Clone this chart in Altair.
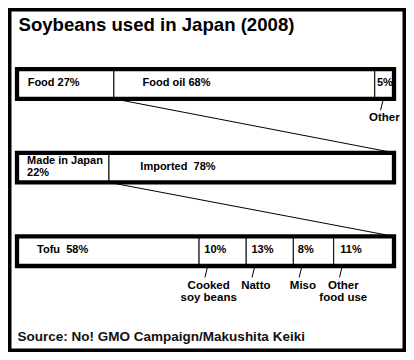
import altair as alt
import pandas as pd

# ---------------- data ----------------
title_text = ["Soybeans used in Japan (2008)"]
source_text = ["Source: No! GMO Campaign/Makushita Keiki"]

rows = ["Use", "Origin", "Food use"]

NB = "\u00a0"

# row 1: what soybeans are used for
use_labels = ["Food 27%", "Food oil 68%", "5%"]
use_pct = [27, 68, 5]
use_drawn = [25.7, 69.2, 5.1]          # share of the bar as drawn
use_callouts = ["", "", "Other"]

# row 2: origin of food soybeans
origin_labels = ["Made in Japan\n22%", "Imported" + NB + " 78%"]
origin_pct = [22, 78]
origin_drawn = [24.4, 75.6]
origin_callouts = ["", ""]

# row 3: food uses of domestic soybeans
food_labels = ["Tofu" + NB + " 58%", "10%", "13%", "8%", "11%"]
food_pct = [58, 10, 13, 8, 11]
food_drawn = [48.3, 12.5, 12.5, 10.7, 16.0]
food_callouts = ["", "Cooked\nsoy beans", "Natto", "Miso", "Other\nfood use"]

# ---------------- tables ----------------
recs = []
for row, labels, pcts, drawn, calls in [
    (rows[0], use_labels, use_pct, use_drawn, use_callouts),
    (rows[1], origin_labels, origin_pct, origin_drawn, origin_callouts),
    (rows[2], food_labels, food_pct, food_drawn, food_callouts),
]:
    s = 0.0
    for lab, p, d, c in zip(labels, pcts, drawn, calls):
        recs.append(dict(row=row, label=lab, pct=p, start=s, end=s + d, callout=c,
                         multi="\n" in lab))
        s += d
seg = pd.DataFrame(recs)
seg["lx"] = seg["start"] + 0.11 * (seg["end"] - seg["start"])

frame = seg.groupby("row", sort=False).agg(start=("start", "min"), end=("end", "max")).reset_index()

conn = []
for a, b in zip(rows[:-1], rows[1:]):
    first = seg[seg.row == a].iloc[0]
    nxt = frame[frame.row == b].iloc[0]
    conn.append(dict(row=a, nrow=b, bx=first["end"], ex=nxt["end"]))
conn = pd.DataFrame(conn)

calls = seg[seg.callout != ""].copy()
single = seg[~seg.multi].copy()
multi = seg[seg.multi].copy()

# ---------------- scales ----------------
FONT = "Liberation Sans"
xs = alt.Scale(domain=[0, 100], range=[9, 386], nice=False, zero=False)
ys = alt.Scale(domain=rows, range=[61.2, 258.0], paddingInner=0.646, paddingOuter=0)

X = lambda f: alt.X(f, scale=xs, axis=None)
Y = lambda f, bp=None: (alt.Y(f, scale=ys, axis=None, bandPosition=bp)
                        if bp is not None else alt.Y(f, scale=ys, axis=None))

segments = alt.Chart(seg).mark_bar(fill="white", stroke="black", strokeWidth=1).encode(
    x=X("start:Q"), x2="end:Q", y=Y("row:N")
)

connectors = alt.Chart(conn).mark_rule(color="black", strokeWidth=1).encode(
    x=X("bx:Q"), x2="ex:Q",
    y=Y("row:N", 1), y2=alt.Y2("nrow:N", bandPosition=0),
)

borders = alt.Chart(frame).mark_bar(fill="white", fillOpacity=0, stroke="black", strokeWidth=4.3).encode(
    x=X("start:Q"), x2="end:Q", y=Y("row:N")
)

txt_style = dict(align="left", baseline="middle", font=FONT, fontSize=11, fontWeight="bold",
                 lineBreak="\n", lineHeight=12.5, color="black")

bar_text = alt.Chart(single).mark_text(dy=-1, **txt_style).encode(
    x=X("lx:Q"), y=Y("row:N", 0.5), text="label:N")

bar_text_multi = alt.Chart(multi).mark_text(dy=-7, **txt_style).encode(
    x=X("lx:Q"), y=Y("row:N", 0.5), text="label:N")

ticks = alt.Chart(calls).mark_rule(
    color="black", strokeWidth=1, xOffset=8.6, x2Offset=5.8, yOffset=0, y2Offset=11.5
).encode(x=X("start:Q"), x2="start:Q", y=Y("row:N", 1), y2=alt.Y2("row:N", bandPosition=1))

call_text = alt.Chart(calls).mark_text(
    align="center", baseline="top", font=FONT, fontSize=11.5, fontWeight="bold",
    lineBreak="\n", lineHeight=12.5, color="black", dx=9.6, dy=13.5
).encode(x=X("start:Q"), y=Y("row:N", 1), text="callout:N")

title = alt.Chart(pd.DataFrame({"t": title_text})).mark_text(
    align="left", baseline="alphabetic", font=FONT, fontSize=18.6, fontWeight="bold", color="black"
).encode(x=alt.value(10.5), y=alt.value(23), text="t:N")

source = alt.Chart(pd.DataFrame({"t": source_text})).mark_text(
    align="left", baseline="alphabetic", font=FONT, fontSize=13.5, fontWeight="bold", color="#111111"
).encode(x=alt.value(9.6), y=alt.value(332.5), text="t:N")

chart = alt.layer(
    connectors, segments, borders, bar_text, bar_text_multi, ticks, call_text, title, source
).properties(
    width=398, height=344, padding=0, autosize=alt.AutoSizeParams(type="none"),
    background="white",
).configure_view(stroke="black", strokeWidth=7)

chart.save("out.html", embed_options={"renderer": "svg", "actions": False})
